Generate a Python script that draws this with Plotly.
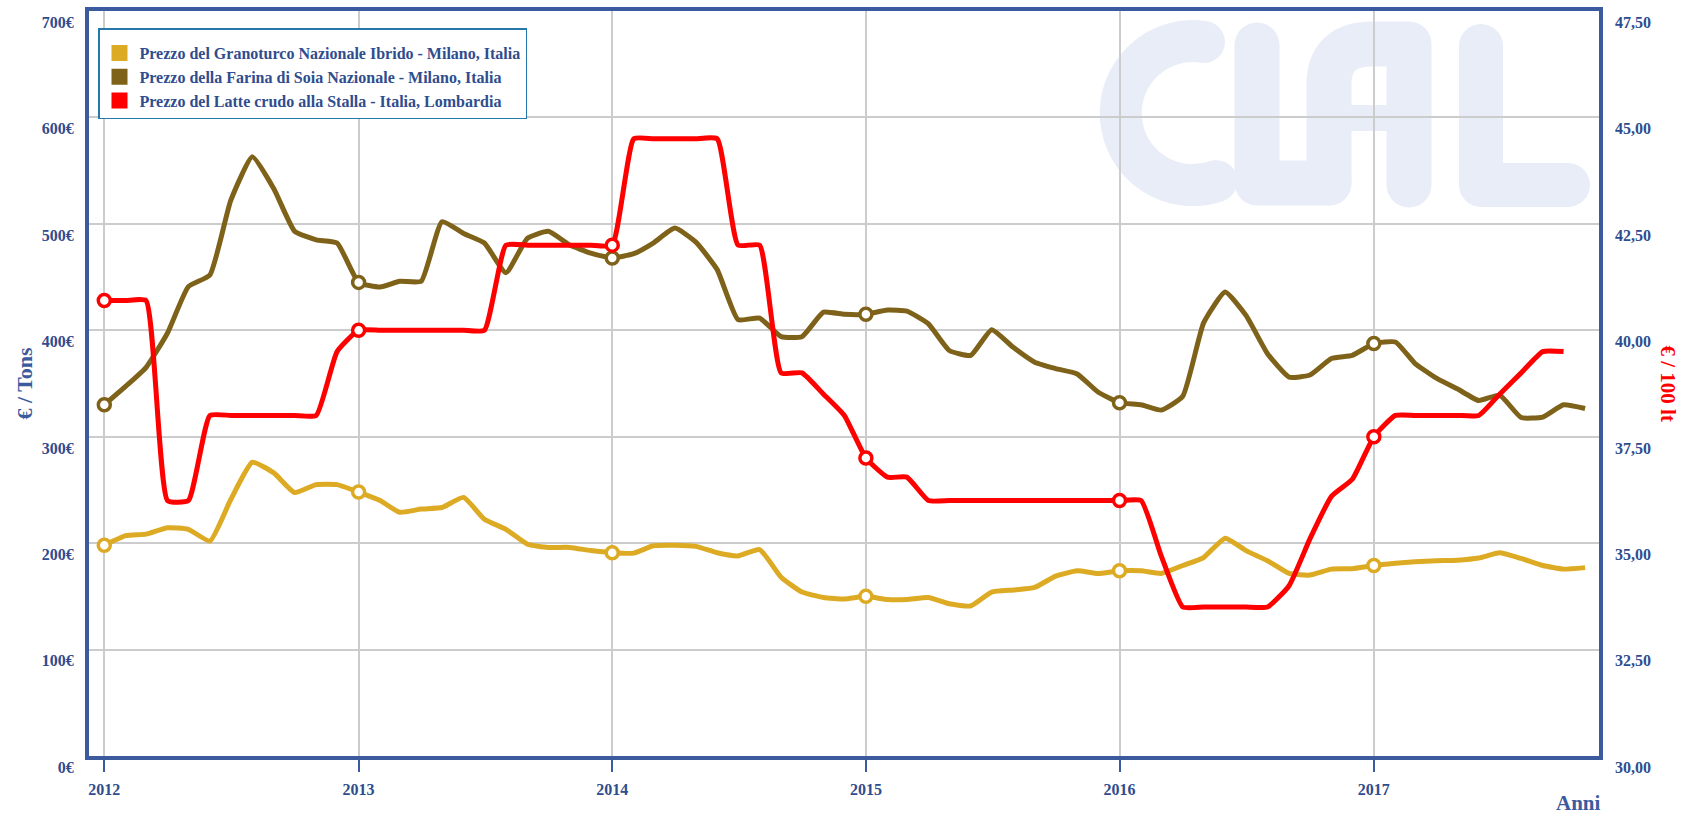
import base64
import pandas as pd
import plotly.graph_objects as go

# ---------------- data (monthly, Jan 2012 - Nov 2017) ----------------
months = pd.date_range("2012-01-01", "2017-11-01", freq="MS")

corn = [198, 207, 208.5, 214.5, 213, 202, 241, 276, 266, 247.5, 255, 255,
        248, 240, 229, 232, 233.5, 243, 222.5, 213, 199, 196, 196, 193,
        191, 190.6, 197.5, 198, 197, 191, 188, 194, 168, 154, 149, 147.5,
        150, 147, 147, 149, 143, 141, 154, 156, 158.5, 169, 174, 171.5,
        174, 174, 171.5, 179, 186.5, 204.7, 193, 183.5, 171.5, 170, 175.6, 176,
        179, 181, 182.5, 183.5, 184, 186, 191, 185.6, 179, 175.6, 177]

soy = [330, 347.5, 365, 397.5, 441, 452, 522, 563, 533, 493, 485, 482,
       445, 440.6, 446, 446, 502, 491, 482, 454, 486.5, 493, 480, 472.5,
       468, 472, 482, 496, 483, 457, 410, 411.5, 394, 394, 417, 415,
       415, 419, 418, 406, 381, 376.5, 400.6, 384, 370, 364, 359, 342,
       332, 330, 325, 338, 407, 436, 414, 378, 356, 358, 373.5, 376.5,
       387.5, 389, 369, 355, 345, 334, 339, 318, 318.5, 330, 326.5]

milk = [40.7, 40.7, 40.7, 36.0, 36.0, 38.0, 38.0, 38.0, 38.0, 38.0, 38.0, 39.5,
        40.0, 40.0, 40.0, 40.0, 40.0, 40.0, 40.0, 42.0, 42.0, 42.0, 42.0, 42.0,
        42.0, 44.5, 44.5, 44.5, 44.5, 44.5, 42.0, 42.0, 39.0, 39.0, 38.5, 38.0,
        37.0, 36.55, 36.55, 36.0, 36.0, 36.0, 36.0, 36.0, 36.0, 36.0, 36.0, 36.0,
        36.0, 36.0, 34.7, 33.5, 33.5, 33.5, 33.5, 33.5, 34.0, 35.1, 36.1, 36.5,
        37.5, 38.0, 38.0, 38.0, 38.0, 38.0, 38.5, 39.0, 39.5, 39.5]

names = ["Prezzo del Granoturco Nazionale Ibrido - Milano, Italia",
         "Prezzo della Farina di Soia Nazionale - Milano, Italia",
         "Prezzo del Latte crudo alla Stalla - Italia, Lombardia"]

left_ticks = [0, 100, 200, 300, 400, 500, 600, 700]
left_text = ["0€", "100€", "200€", "300€", "400€", "500€", "600€", "700€"]
right_ticks = [30, 32.5, 35, 37.5, 40, 42.5, 45, 47.5]

# ---------------- styles ----------------
CORN = "#DDAA24"
SOY = "#7E6219"
MILK = "#FF0000"
BLUE = "#3B5B9E"
TXT = "#2F4D8E"
GRID = "#CCCCCC"
LOGO = "#E8EDF7"
FONT = "Liberation Serif"

W, H = 1690, 818
ML, MR, MT, MB = 89, 91, 11, 62
PW, PH = W - ML - MR, H - MT - MB


def jan_sizes(n):
    return [12 if months[i].month == 1 else 0 for i in range(n)]


def jan_lw(n):
    return [3.5 if months[i].month == 1 else 0 for i in range(n)]


fig = go.Figure()

series = [(corn, CORN, "y"), (soy, SOY, "y"), (milk, MILK, "y2")]
for (vals, col, ax), nm in zip(series, names):
    n = len(vals)
    fig.add_trace(go.Scatter(
        x=months[:n], y=vals, yaxis=ax, name=nm, showlegend=False,
        mode="lines+markers",
        line=dict(color=col, width=5, shape="spline", smoothing=0.45),
        marker=dict(size=jan_sizes(n), color="white", opacity=1,
                    line=dict(color=col, width=jan_lw(n))),
        hoverinfo="x+y",
    ))

# legend entries as filled squares
for nm, col in zip(names, [CORN, SOY, MILK]):
    fig.add_trace(go.Scatter(
        x=[None], y=[None], mode="markers", name=nm, showlegend=True,
        marker=dict(symbol="square", size=19, color=col)))

# watermark logo (CLAL) as inline SVG
svg = f'''<svg xmlns="http://www.w3.org/2000/svg" width="520" height="215" viewBox="0 0 520 215">
<g fill="none" stroke="{LOGO}" stroke-linecap="round" stroke-linejoin="round">
<path d="M 124 42 A 72 72 0 1 0 136.4 181.1" stroke-width="42"/>
<path d="M 177 45 L 177 183 L 249 183" stroke-width="45"/>
<path d="M 249 183 L 249 80 Q 252 44 292 44 L 329 44 L 329 185" stroke-width="45"/>
<path d="M 249 118 L 329 118" stroke-width="26"/>
<path d="M 401 46 L 401 185 L 488 185" stroke-width="44"/>
</g></svg>'''
src = "data:image/svg+xml;base64," + base64.b64encode(svg.encode()).decode()

tickfont = dict(family=FONT, size=16, color=TXT, weight="bold")

fig.update_layout(
    width=W, height=H,
    margin=dict(l=ML, r=MR, t=MT, b=MB, autoexpand=False),
    paper_bgcolor="white", plot_bgcolor="rgba(0,0,0,0)",
    separators=",.",
    font=dict(family=FONT, color=TXT),
    images=[dict(source=src, xref="paper", yref="paper",
                 x=(1080 - ML) / PW, y=1 + MT / PH,
                 sizex=520 / PW, sizey=215 / PH,
                 xanchor="left", yanchor="top", sizing="stretch",
                 layer="below")],
    xaxis=dict(
        type="date", range=["2011-12-10", "2017-11-21"],
        tick0="2012-01-01", dtick="M12", tickformat="%Y",
        showgrid=True, gridcolor=GRID, gridwidth=2,
        showline=True, linecolor=BLUE, linewidth=4, mirror=True,
        ticks="outside", ticklen=12, tickcolor=BLUE, tickwidth=1.5,
        tickfont=tickfont, ticklabelstandoff=4, zeroline=False,
    ),
    yaxis=dict(
        range=[0, 700], tickmode="array", tickvals=left_ticks, ticktext=left_text,
        showgrid=True, gridcolor=GRID, gridwidth=2,
        showline=True, linecolor=BLUE, linewidth=4, mirror=True,
        ticks="", tickfont=tickfont, ticklabelposition="outside bottom",
        ticklabelstandoff=8, zeroline=False,
    ),
    yaxis2=dict(
        range=[30, 47.5], tickmode="array", tickvals=right_ticks, tickformat=".2f",
        overlaying="y", side="right", showgrid=False, showline=False,
        ticks="", tickfont=tickfont, ticklabelposition="outside bottom",
        ticklabelstandoff=15, zeroline=False,
    ),
    legend=dict(
        x=(98 - ML) / PW, y=(H - MB - 28) / PH, xanchor="left", yanchor="top",
        bgcolor="white", bordercolor="#2678AA", borderwidth=1.5,
        font=dict(family=FONT, size=16, color=TXT, weight="bold"),
        title=dict(text=" ", font=dict(size=5)),
        itemwidth=30, tracegroupgap=0,
    ),
    annotations=[
        dict(text="€ / Tons", xref="paper", yref="paper",
             x=(24 - ML) / PW, y=0.5, textangle=-90, showarrow=False,
             xanchor="center", yanchor="middle",
             font=dict(family=FONT, size=22, color=BLUE, weight="bold")),
        dict(text="€ / 100 lt", xref="paper", yref="paper",
             x=(1668 - ML) / PW, y=0.5, textangle=90, showarrow=False,
             xanchor="center", yanchor="middle",
             font=dict(family=FONT, size=21, color=MILK, weight="bold")),
        dict(text="Anni", xref="paper", yref="paper",
             x=(1578 - ML) / PW, y=(H - MB - 803) / PH, showarrow=False,
             xanchor="center", yanchor="middle",
             font=dict(family=FONT, size=21, color=BLUE, weight="bold")),
    ],
    hovermode="closest",
)

fig.write_html("out.html", config={"displayModeBar": False},
               post_script="document.body.style.margin='0px';")
